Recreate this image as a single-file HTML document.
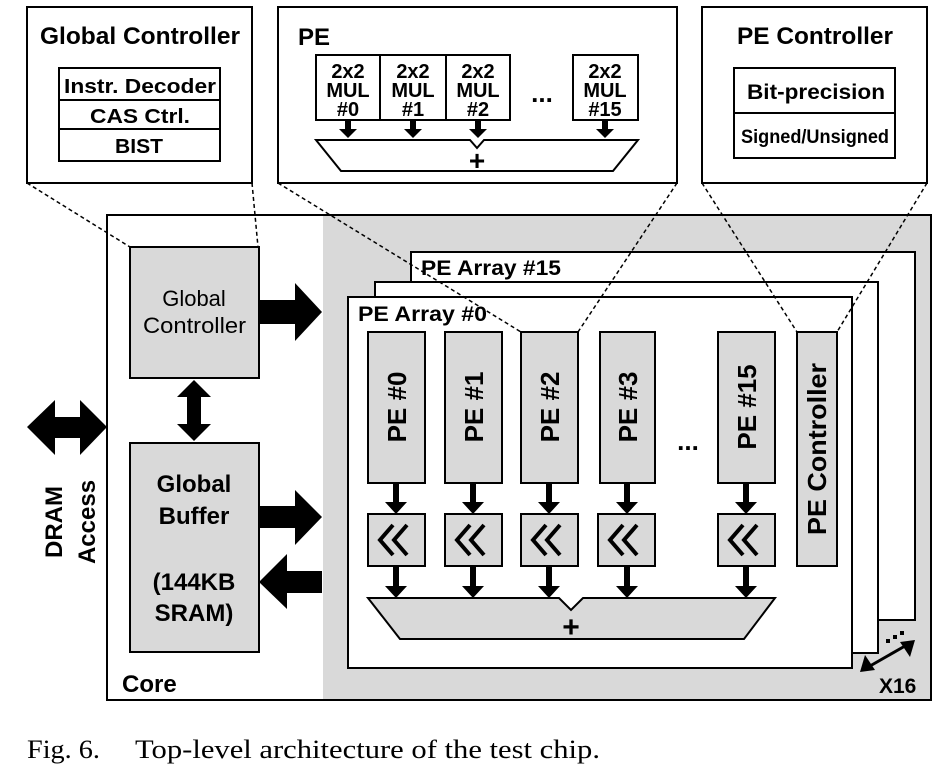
<!DOCTYPE html>
<html><head><style>
html,body{margin:0;padding:0;background:#fff;}
svg{display:block;}
text{font-family:"Liberation Sans",Arial,sans-serif;font-weight:bold;fill:#000;}
</style></head><body>
<svg width="941" height="778" viewBox="0 0 941 778" xmlns="http://www.w3.org/2000/svg">
<rect x="27" y="7" width="225" height="176" fill="#fff" stroke="#000" stroke-width="2"/>
<text x="40" y="44" font-size="24" textLength="200" lengthAdjust="spacingAndGlyphs">Global Controller</text>
<rect x="59" y="68" width="161" height="93" fill="#fff" stroke="#000" stroke-width="2"/>
<line x1="59" y1="100" x2="220" y2="100" stroke="#000" stroke-width="2"/>
<line x1="59" y1="129" x2="220" y2="129" stroke="#000" stroke-width="2"/>
<text x="64" y="93" font-size="20" textLength="152" lengthAdjust="spacingAndGlyphs">Instr. Decoder</text>
<text x="90" y="123" font-size="20" textLength="100" lengthAdjust="spacingAndGlyphs">CAS Ctrl.</text>
<text x="115" y="153" font-size="20" textLength="48" lengthAdjust="spacingAndGlyphs">BIST</text>

<rect x="278" y="7" width="399" height="176" fill="#fff" stroke="#000" stroke-width="2"/>
<text x="298" y="45" font-size="24">PE</text>
<g font-size="20" text-anchor="middle">
<rect x="316" y="55" width="64" height="65" fill="#fff" stroke="#000" stroke-width="2"/>
<rect x="380" y="55" width="66" height="65" fill="#fff" stroke="#000" stroke-width="2"/>
<rect x="446" y="55" width="64" height="65" fill="#fff" stroke="#000" stroke-width="2"/>
<rect x="573" y="55" width="65" height="65" fill="#fff" stroke="#000" stroke-width="2"/>
<text x="348" y="78">2x2</text><text x="348" y="97">MUL</text><text x="348" y="116">#0</text>
<text x="413" y="78">2x2</text><text x="413" y="97">MUL</text><text x="413" y="116">#1</text>
<text x="478" y="78">2x2</text><text x="478" y="97">MUL</text><text x="478" y="116">#2</text>
<text x="605" y="78">2x2</text><text x="605" y="97">MUL</text><text x="605" y="116">#15</text>
<text x="542" y="102" font-size="26">...</text>
</g>
<g fill="#000">
<path d="M345,121h6v8h6l-9,9l-9,-9h6z"/>
<path d="M410,121h6v8h6l-9,9l-9,-9h6z"/>
<path d="M475,121h6v8h6l-9,9l-9,-9h6z"/>
<path d="M602,121h6v8h6l-9,9l-9,-9h6z"/>
</g>
<path d="M316,140 L470,140 L477,148 L484,140 L638,140 L613,171 L341,171 Z" fill="#fff" stroke="#000" stroke-width="2"/>
<text x="477" y="170" font-size="28" text-anchor="middle">+</text>

<rect x="702" y="7" width="225" height="176" fill="#fff" stroke="#000" stroke-width="2"/>
<text x="737" y="44" font-size="24" textLength="156" lengthAdjust="spacingAndGlyphs">PE Controller</text>
<rect x="734" y="68" width="161" height="90" fill="#fff" stroke="#000" stroke-width="2"/>
<line x1="734" y1="113" x2="895" y2="113" stroke="#000" stroke-width="2"/>
<text x="747" y="99" font-size="21" textLength="138" lengthAdjust="spacingAndGlyphs">Bit-precision</text>
<text x="741" y="143" font-size="19" textLength="148" lengthAdjust="spacingAndGlyphs">Signed/Unsigned</text>

<rect x="107" y="215" width="824" height="485" fill="#fff" stroke="#000" stroke-width="2"/>
<rect x="323" y="216" width="607" height="483" fill="#d9d9d9"/>
<text x="122" y="692" font-size="24">Core</text>

<rect x="411" y="252" width="504" height="368" fill="#fff" stroke="#000" stroke-width="2"/>
<text x="421" y="275" font-size="21" textLength="140" lengthAdjust="spacingAndGlyphs">PE Array #15</text>
<rect x="375" y="282" width="503" height="371" fill="#fff" stroke="#000" stroke-width="2"/>
<rect x="348" y="297" width="504" height="371" fill="#fff" stroke="#000" stroke-width="2"/>
<text x="358" y="321" font-size="21" textLength="129" lengthAdjust="spacingAndGlyphs">PE Array #0</text>

<g fill="#d9d9d9" stroke="#000" stroke-width="2">
<rect x="368" y="332" width="57" height="151"/>
<rect x="445" y="332" width="57" height="151"/>
<rect x="521" y="332" width="57" height="151"/>
<rect x="600" y="332" width="55" height="151"/>
<rect x="718" y="332" width="57" height="151"/>
<rect x="797" y="332" width="40" height="234"/>
<rect x="368" y="514" width="57" height="52"/>
<rect x="445" y="514" width="57" height="52"/>
<rect x="521" y="514" width="57" height="52"/>
<rect x="598" y="514" width="57" height="52"/>
<rect x="718" y="514" width="57" height="52"/>
<path d="M368,598 L559,598 L571,610 L583,598 L775,598 L744,639 L400,639 Z"/>
</g>
<g font-size="26">
<text transform="translate(406,407) rotate(-90)" text-anchor="middle">PE #0</text>
<text transform="translate(483,407) rotate(-90)" text-anchor="middle">PE #1</text>
<text transform="translate(559,407) rotate(-90)" text-anchor="middle">PE #2</text>
<text transform="translate(637,407) rotate(-90)" text-anchor="middle">PE #3</text>
<text transform="translate(756,407) rotate(-90)" text-anchor="middle">PE #15</text>
<text transform="translate(826,449) rotate(-90)" text-anchor="middle" textLength="172" lengthAdjust="spacingAndGlyphs">PE Controller</text>
</g>
<text x="688" y="450" font-size="26" text-anchor="middle">...</text>
<g fill="none" stroke="#000" stroke-width="4">
<g id="chev"><path d="M393,525 L380,540 L393,555"/><path d="M407,525 L394,540 L407,555"/></g>
<use href="#chev" x="77"/>
<use href="#chev" x="153"/>
<use href="#chev" x="230"/>
<use href="#chev" x="350"/>
</g>
<text x="571" y="637" font-size="30" text-anchor="middle">+</text>
<g fill="#000">
<path d="M393,484h6v18h8l-11,12l-11,-12h8z"/>
<path d="M470,484h6v18h8l-11,12l-11,-12h8z"/>
<path d="M546,484h6v18h8l-11,12l-11,-12h8z"/>
<path d="M624,484h6v18h8l-11,12l-11,-12h8z"/>
<path d="M743,484h6v18h8l-11,12l-11,-12h8z"/>
<path d="M393,567h6v19h8l-11,12l-11,-12h8z"/>
<path d="M470,567h6v19h8l-11,12l-11,-12h8z"/>
<path d="M546,567h6v19h8l-11,12l-11,-12h8z"/>
<path d="M624,567h6v19h8l-11,12l-11,-12h8z"/>
<path d="M743,567h6v19h8l-11,12l-11,-12h8z"/>
</g>
<line x1="870" y1="666" x2="905" y2="646" stroke="#000" stroke-width="3"/>
<path d="M860,672 L865,655 L875,670 Z" fill="#000"/>
<path d="M915,640 L910,657 L900,642 Z" fill="#000"/>
<g fill="#000"><rect x="886" y="639" width="4" height="4"/><rect x="893" y="635" width="4" height="4"/><rect x="900" y="631" width="4" height="4"/></g>
<text x="879" y="693" font-size="21">X16</text>

<rect x="130" y="247" width="129" height="131" fill="#d9d9d9" stroke="#000" stroke-width="2"/>
<text x="194" y="306" font-size="22" text-anchor="middle" style="font-weight:normal">Global</text>
<text x="143" y="333" font-size="22" textLength="103" lengthAdjust="spacingAndGlyphs" style="font-weight:normal">Controller</text>
<rect x="130" y="443" width="129" height="209" fill="#d9d9d9" stroke="#000" stroke-width="2"/>
<text x="194" y="492" font-size="24" text-anchor="middle">Global</text>
<text x="194" y="524" font-size="24" text-anchor="middle">Buffer</text>
<text x="194" y="590" font-size="24" text-anchor="middle">(144KB</text>
<text x="194" y="621" font-size="24" text-anchor="middle">SRAM)</text>

<g fill="#000">
<path d="M259,300 H295 V283 L322,312 L295,341 V324 H259 Z"/>
<path d="M259,506 H295 V490 L322,517 L295,545 V528 H259 Z"/>
<path d="M322,571 H287 V554 L259,582 L287,609 V593 H322 Z"/>
<path d="M194,380 L211,397 H201 V424 H211 L194,441 L177,424 H187 V397 H177 Z"/>
<path d="M27,427 L55,400 V417 H80 V400 L107,427 L80,455 V438 H55 V455 Z"/>
</g>
<text transform="translate(62,522) rotate(-90)" font-size="24" text-anchor="middle">DRAM</text>
<text transform="translate(95,522) rotate(-90)" font-size="24" text-anchor="middle">Access</text>

<g stroke="#000" stroke-width="1.5" stroke-dasharray="4,3" fill="none">
<line x1="27" y1="183" x2="130" y2="247"/>
<line x1="252" y1="183" x2="258" y2="247"/>
<line x1="278" y1="183" x2="521" y2="332"/>
<line x1="677" y1="183" x2="578" y2="332"/>
<line x1="702" y1="183" x2="797" y2="332"/>
<line x1="927" y1="183" x2="837" y2="332"/>
</g>

<text x="27" y="758" font-size="26" textLength="73" lengthAdjust="spacingAndGlyphs" style="font-family:'Liberation Serif',serif;font-weight:normal">Fig. 6.</text>
<text x="135" y="758" font-size="26" textLength="465" lengthAdjust="spacingAndGlyphs" style="font-family:'Liberation Serif',serif;font-weight:normal">Top-level architecture of the test chip.</text>
</svg>
</body></html>
